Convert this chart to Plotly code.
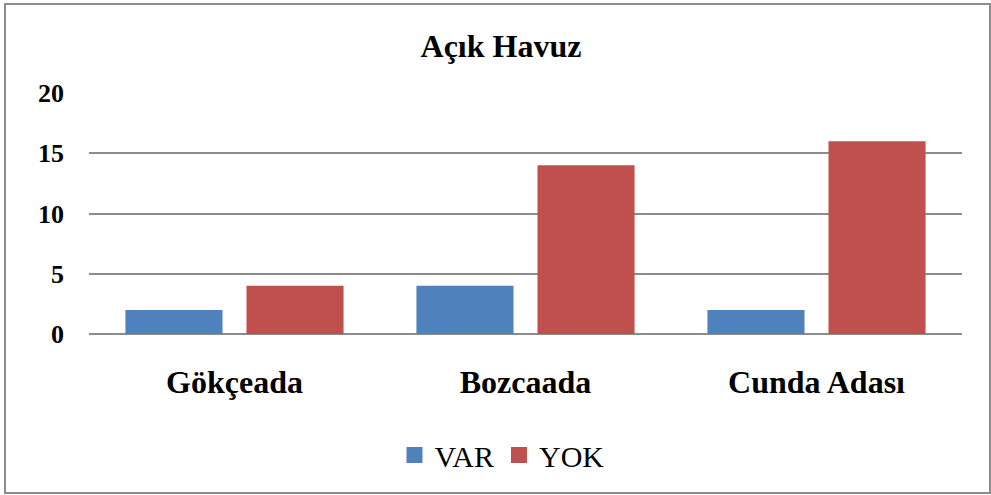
import plotly.graph_objects as go

categories = ["Gökçeada", "Bozcaada", "Cunda Adası"]
var_values = [2, 4, 2]
yok_values = [4, 14, 16]
y_ticks = [0, 5, 10, 15, 20]
series_names = ["VAR", "YOK"]
series_colors = ["#4F81BD", "#C0504D"]

FONT = "Liberation Serif"
L, R, T, B = 89, 29, 93, 161
W, H = 991, 495
pw, ph = W - L - R, H - T - B

fig = go.Figure()
for name, vals, col in zip(series_names, [var_values, yok_values], series_colors):
    fig.add_trace(go.Bar(name=name, x=categories, y=vals, marker=dict(color=col, line=dict(width=0)),
                         showlegend=False, legendgroup=name))
for name, col in zip(series_names, series_colors):
    fig.add_trace(go.Scatter(name=name, x=[None], y=[None], mode="markers", legendgroup=name,
                             marker=dict(symbol="square", size=16, color=col)))

fig.update_layout(
    width=W, height=H,
    margin=dict(l=L, r=R, t=T, b=B),
    paper_bgcolor="white", plot_bgcolor="white",
    barmode="group", bargap=0.168, bargroupgap=0.198,
    title=dict(text="<b>Açık Havuz</b>", x=501 / W, xanchor="center", y=1 - 46 / H, yanchor="middle",
               xref="container", font=dict(family=FONT, size=32, color="black")),
    font=dict(family=FONT, color="black"),
    showlegend=True,
    legend=dict(orientation="h", x=(502 - L) / pw, xanchor="center", y=-(455 - (T + ph)) / ph, yanchor="middle",
                font=dict(family=FONT, size=30, color="black"), traceorder="normal", itemwidth=30),
)
fig.update_xaxes(showgrid=False, showline=False, ticks="outside", ticklen=0, ticklabelstandoff=20,
                 tickfont=dict(family=FONT, size=32, color="black"),
                 tickvals=categories, ticktext=[f"<b>{c}</b>" for c in categories])
fig.update_yaxes(range=[0, 20], tickvals=y_ticks, ticktext=[f"<b>{v}</b>" for v in y_ticks],
                 showgrid=True, gridcolor="#8C8C8C", gridwidth=2, zeroline=True, zerolinecolor="#8C8C8C",
                 zerolinewidth=2, showline=False, ticklabelstandoff=24,
                 tickfont=dict(family=FONT, size=26, color="black"))
fig.add_shape(type="rect", xref="paper", yref="paper",
              x0=(5 - L) / pw, x1=(990 - L) / pw,
              y0=-(493 - (T + ph)) / ph, y1=((T + ph) - 4) / ph,
              line=dict(color="#8C8C8C", width=2), fillcolor="rgba(0,0,0,0)", layer="below")
fig.write_html("out.html", config={"displayModeBar": False},
               post_script="document.body.style.margin='0';document.body.style.overflow='hidden';")
